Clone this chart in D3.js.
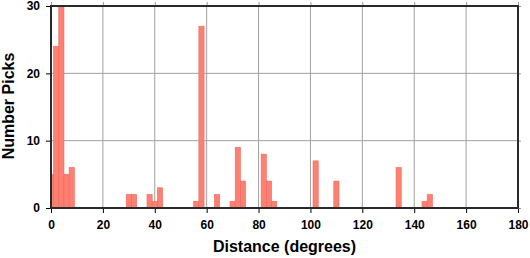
<!DOCTYPE html>
<html>
<head>
<meta charset="utf-8">
<script src="https://cdn.jsdelivr.net/npm/d3@7"></script>
<style>
  body { margin: 0; background: #fff; }
  svg text { font-family: "Liberation Sans", Arial, sans-serif; font-weight: bold; fill: #000; }
</style>
</head>
<body>
<div id="chart"></div>
<script>
// histogram of picks, 2-degree bins (bin centers)
const binCenters = [0, 2, 4, 6, 8, 30, 32, 38, 40, 42, 56, 58, 64, 70, 72, 74, 82, 84, 86, 102, 110, 134, 144, 146];
const counts     = [5, 24, 30, 5, 6, 2, 2, 2, 1, 3, 1, 27, 2, 1, 9, 4, 8, 4, 1, 7, 4, 6, 1, 2];
const xTicks = [0, 20, 40, 60, 80, 100, 120, 140, 160, 180];
const yTicks = [0, 10, 20, 30];
const binWidth = 2;

const width = 530, height = 258;
const margin = {top: 6, right: 12, bottom: 50, left: 51};

const svg = d3.select("#chart").append("svg")
    .attr("width", width)
    .attr("height", height);

const x = d3.scaleLinear().domain([0, 180]).range([margin.left, width - margin.right]);
const y = d3.scaleLinear().domain([0, 30]).range([height - margin.bottom, margin.top]);

// grid
svg.append("g")
    .selectAll("line")
    .data(xTicks.slice(1, -1))
    .enter().append("line")
    .attr("x1", d => x(d)).attr("x2", d => x(d))
    .attr("y1", y(30)).attr("y2", y(0))
    .attr("stroke", "#a0a0a0").attr("stroke-width", 1);

svg.append("g")
    .selectAll("line")
    .data(yTicks.slice(1, -1))
    .enter().append("line")
    .attr("x1", x(0)).attr("x2", x(180))
    .attr("y1", d => y(d)).attr("y2", d => y(d))
    .attr("stroke", "#a0a0a0").attr("stroke-width", 1);

// bars
svg.append("g")
    .selectAll("rect")
    .data(binCenters.map((c, i) => ({c: c, n: counts[i]})))
    .enter().append("rect")
    .attr("x", d => x(Math.max(0, d.c - binWidth / 2)))
    .attr("width", d => x(d.c + binWidth / 2) - x(Math.max(0, d.c - binWidth / 2)))
    .attr("y", d => y(d.n))
    .attr("height", d => y(0) - y(d.n))
    .attr("fill", "#fd8073")
    .attr("stroke", "#f0675a")
    .attr("stroke-width", 0.6);

// axes
const xAxis = svg.append("g")
    .attr("transform", `translate(0,${y(0)})`)
    .call(d3.axisBottom(x).tickValues(xTicks).tickSize(5).tickPadding(7));
xAxis.selectAll("text").style("font-size", "12px");
xAxis.select(".domain").remove();

const xTop = svg.append("g")
    .attr("transform", `translate(0,${y(30)})`)
    .call(d3.axisTop(x).tickValues(xTicks).tickSize(4).tickFormat(""));
xTop.select(".domain").remove();
xTop.selectAll("line").attr("stroke", "#999");

const yAxis = svg.append("g")
    .attr("transform", `translate(${x(0)},0)`)
    .call(d3.axisLeft(y).tickValues(yTicks).tickSize(5).tickPadding(6));
yAxis.selectAll("text").style("font-size", "12px");
yAxis.select(".domain").remove();

const yRight = svg.append("g")
    .attr("transform", `translate(${x(180)},0)`)
    .call(d3.axisRight(y).tickValues(yTicks).tickSize(3).tickFormat(""));
yRight.select(".domain").remove();
yRight.selectAll("line").attr("stroke", "#999");

// frame
svg.append("rect")
    .attr("x", x(0)).attr("y", y(30))
    .attr("width", x(180) - x(0))
    .attr("height", y(0) - y(30))
    .attr("fill", "none")
    .attr("stroke", "#2a2a2a")
    .attr("stroke-width", 2);

// titles
svg.append("text")
    .attr("x", (x(0) + x(180)) / 2)
    .attr("y", 252)
    .attr("text-anchor", "middle")
    .style("font-size", "16px")
    .text("Distance (degrees)");

svg.append("text")
    .attr("transform", `translate(14,${(y(0) + y(30)) / 2 - 1}) rotate(-90)`)
    .attr("text-anchor", "middle")
    .style("font-size", "16px")
    .text("Number Picks");
</script>
</body>
</html>
